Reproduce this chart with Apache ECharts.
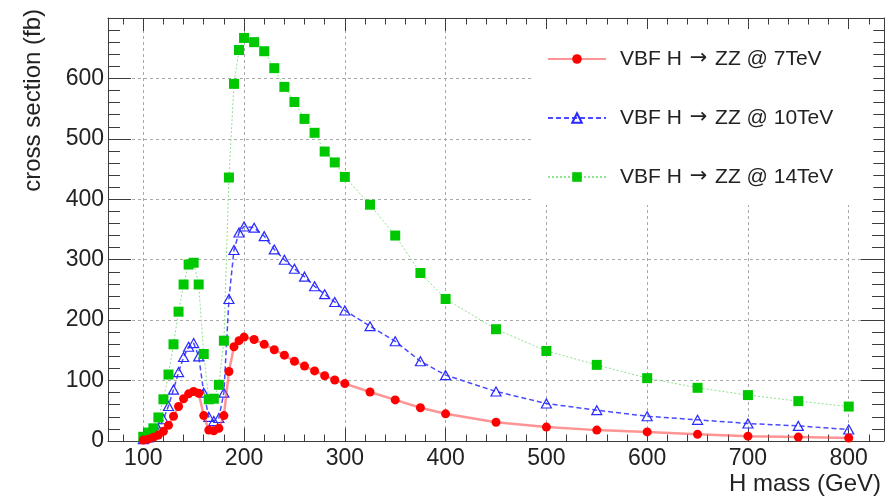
<!DOCTYPE html>
<html>
<head>
<meta charset="utf-8">
<title>VBF H → ZZ cross section</title>
<script src="https://cdn.jsdelivr.net/npm/echarts@6/dist/echarts.min.js"></script>
<style>
  html, body { margin: 0; padding: 0; background: #ffffff; }
  #chart { width: 893px; height: 498px; }
</style>
</head>
<body>
<div id="chart"></div>
<script>
// Higgs mass points (GeV)
const massGeV = [
  100, 105, 110, 115, 120, 125, 130, 135, 140, 145, 150, 155, 160, 165, 170, 175, 180, 185, 190, 195, 200,
  210, 220, 230, 240, 250, 260, 270, 280, 290, 300,
  325, 350, 375, 400, 450, 500, 550, 600, 650, 700, 750, 800
];

// VBF H -> ZZ cross sections (fb)
const xsec7TeV = [
  1.5, 3, 6, 10, 16, 26, 41, 57, 70, 78, 82, 79, 42, 18, 17, 21, 42, 115, 156, 166, 172,
  168, 160, 151, 142, 132, 124, 116, 108, 101, 95,
  81, 68, 55, 45, 31, 23, 18, 15, 11, 8, 6.5, 5
];
const xsec10TeV = [
  3, 6, 11, 20, 36, 58, 85, 114, 139, 156, 162, 140, 80, 40, 33, 38, 80, 235, 316, 345, 355,
  353, 339, 317, 300, 285, 272, 256, 243, 230, 216,
  190, 165, 132, 109, 82, 62, 51, 41, 35, 29, 25, 19
];
const xsec14TeV = [
  7, 14, 21, 39, 69, 110, 160, 214, 259, 292, 295, 259, 144, 69, 70, 93, 166, 436, 591, 647, 667,
  660, 645, 617, 586, 561, 533, 510, 479, 461, 437,
  391, 340, 278, 235, 185, 149, 126, 104, 88, 76, 66, 57
];

const seriesNames = [
  'VBF H \u2192 ZZ @ 7TeV',
  'VBF H \u2192 ZZ @ 10TeV',
  'VBF H \u2192 ZZ @ 14TeV'
];

// Axis ticks
const massMajorTicks = [100, 200, 300, 400, 500, 600, 700, 800];
const massMinorTicks = [];
for (let m = 80; m <= 820; m += 20) massMinorTicks.push(m);

const xTitle = 'H mass (GeV)';
const yTitle = 'cross section (fb)';

const FONT = '"Liberation Sans", Arial, Helvetica, sans-serif';
const FRAME = '#3c3c3c';
const TEXT = '#222222';
const MASS_MIN = 65, MASS_MAX = 835;

const pairs = ys => massGeV.map((m, i) => [m, ys[i]]);

function massAxis(position, ticks, len, main) {
  return {
    type: 'value',
    position: position,
    min: MASS_MIN,
    max: MASS_MAX,
    axisLine: { show: main, onZero: false, lineStyle: { color: FRAME, width: 1 } },
    axisTick: { show: true, inside: true, length: len, customValues: ticks,
                lineStyle: { color: FRAME, width: 1 } },
    axisLabel: main && position === 'bottom'
      ? { show: true, customValues: massMajorTicks, fontSize: 23, color: TEXT,
          fontFamily: FONT, margin: 6 }
      : { show: false },
    splitLine: main && position === 'bottom'
      ? { show: true, lineStyle: { color: '#a9a9a9', type: [3, 3], width: 1 } }
      : { show: false },
    minorTick: { show: false },
    minorSplitLine: { show: false }
  };
}

function xsecAxis(position) {
  const left = position === 'left';
  return {
    type: 'value',
    position: position,
    min: 0,
    max: 700,
    interval: 100,
    axisLine: { show: true, onZero: false, lineStyle: { color: FRAME, width: 1 } },
    axisTick: { show: true, inside: true, length: 23, lineStyle: { color: FRAME, width: 1 } },
    minorTick: { show: true, splitNumber: 5, length: 12, lineStyle: { color: FRAME, width: 1 } },
    axisLabel: left
      ? { show: true, showMaxLabel: false, fontSize: 23, color: TEXT, fontFamily: FONT, margin: 4 }
      : { show: false },
    splitLine: left
      ? { show: true, lineStyle: { color: '#a9a9a9', type: [3, 3], width: 1 } }
      : { show: false }
  };
}

const option = {
  animation: false,
  backgroundColor: '#ffffff',
  grid: { left: 108, right: 9, top: 18, bottom: 57, containLabel: false, outerBoundsMode: 'none' },
  xAxis: [
    massAxis('bottom', massMajorTicks, 13, true),
    massAxis('bottom', massMinorTicks, 6.5, false),
    massAxis('top', massMajorTicks, 13, true),
    massAxis('top', massMinorTicks, 6.5, false)
  ],
  yAxis: [xsecAxis('left'), xsecAxis('right')],
  // axis titles: x title right-aligned under the axis end, y title rotated and top-aligned
  graphic: [
    {
      type: 'text', x: 881, y: 484, silent: true,
      style: { text: xTitle, font: '24px ' + FONT, fill: TEXT, align: 'right', verticalAlign: 'middle' }
    },
    {
      type: 'text', x: 33, y: 9, rotation: Math.PI / 2, silent: true,
      style: { text: yTitle, font: '24px ' + FONT, fill: TEXT, align: 'right', verticalAlign: 'middle' }
    }
  ],
  legend: {
    orient: 'vertical',
    left: 533,
    top: 29,
    data: seriesNames,
    selectedMode: false,
    itemWidth: 58,
    itemHeight: 12,
    itemGap: 35,
    backgroundColor: '#ffffff',
    padding: [18, 40, 16, 14],
    formatter: name => {
      const parts = name.split('\u2192');
      return '{t|' + parts[0] + '}{a|\u2192}{t|' + parts[1] + '}';
    },
    textStyle: {
      fontSize: 21, color: TEXT, fontFamily: FONT, lineHeight: 24, padding: [0, 0, 0, 9],
      rich: {
        t: { fontSize: 21, color: TEXT, fontFamily: FONT, lineHeight: 24 },
        a: { fontSize: 21, color: TEXT, fontFamily: '"DejaVu Sans", sans-serif', lineHeight: 24,
             padding: [0, 2, 0, 2] }
      }
    }
  },
  series: [
    {
      name: seriesNames[0],
      type: 'line',
      xAxisIndex: 0, yAxisIndex: 0,
      data: pairs(xsec7TeV),
      showAllSymbol: true,
      symbol: 'circle',
      symbolSize: 9,
      itemStyle: { color: '#ff0000' },
      lineStyle: { color: 'rgba(255, 60, 60, 0.55)', width: 2.5 },
      z: 3
    },
    {
      name: seriesNames[1],
      type: 'line',
      xAxisIndex: 0, yAxisIndex: 0,
      data: pairs(xsec10TeV),
      showAllSymbol: true,
      symbol: 'triangle',
      symbolSize: [10, 9],
      itemStyle: { color: 'rgba(255, 255, 255, 0)', borderColor: '#2a2aff', borderWidth: 1.2 },
      lineStyle: { color: '#4a4aff', width: 1.5, type: [5, 3] },
      z: 2
    },
    {
      name: seriesNames[2],
      type: 'line',
      xAxisIndex: 0, yAxisIndex: 0,
      data: pairs(xsec14TeV),
      showAllSymbol: true,
      symbol: 'rect',
      symbolSize: 10,
      itemStyle: { color: '#00c800' },
      lineStyle: { color: '#8fe08f', width: 1, type: [2, 2] },
      z: 2
    }
  ]
};

const chart = echarts.init(document.getElementById('chart'), null, { renderer: 'canvas' });
chart.setOption(option);
</script>
</body>
</html>
